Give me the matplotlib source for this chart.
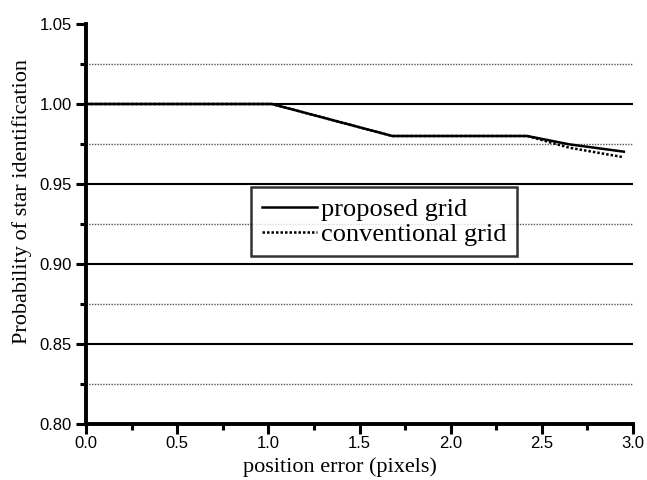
import matplotlib
matplotlib.use("Agg")
import matplotlib.pyplot as plt
from matplotlib.ticker import MultipleLocator

# values
x_proposed = [0.0, 1.02, 1.68, 2.42, 2.65, 2.95]
y_proposed = [1.0, 1.0, 0.980, 0.980, 0.9748, 0.9702]
x_conv = [0.0, 1.02, 1.68, 2.42, 2.65, 2.95]
y_conv = [1.0, 1.0, 0.980, 0.980, 0.9727, 0.9667]
series_names = ["proposed grid", "conventional grid"]
x_ticks = [0.0, 0.5, 1.0, 1.5, 2.0, 2.5, 3.0]
y_ticks = [0.80, 0.85, 0.90, 0.95, 1.00, 1.05]

fig = plt.figure(figsize=(6.47, 4.8), dpi=100)
ax = fig.add_axes([86 / 647, 1 - 424 / 480, 547 / 647, 400 / 480])

ax.set_xlim(0, 3.0)
ax.set_ylim(0.80, 1.05)
ax.set_xticks(x_ticks)
ax.set_yticks(y_ticks)
ax.set_xticklabels([f"{v:.1f}" for v in x_ticks])
ax.set_yticklabels([f"{v:.2f}" for v in y_ticks])
ax.xaxis.set_minor_locator(MultipleLocator(0.25))
ax.yaxis.set_minor_locator(MultipleLocator(0.025))

# horizontal grid: solid on majors, dotted on minors
ax.grid(False)
for v in y_ticks[1:-1]:
    ax.axhline(v, color="black", lw=1.5, zorder=1)
for i in range(10):
    v = 0.825 + 0.05 * i
    if v < 1.05:
        ax.axhline(v, color="#555555", lw=1.0, ls=(0, (1, 1)), zorder=1)

ax.plot(x_proposed, y_proposed, color="black", lw=1.8, label=series_names[0], zorder=3)
ax.plot(x_conv, y_conv, color="black", lw=1.8, ls=(0, (1, 0.8)), label=series_names[1], zorder=2)

for side in ["top", "right"]:
    ax.spines[side].set_visible(False)
for side in ["left", "bottom"]:
    ax.spines[side].set_linewidth(2.8)

ax.tick_params(which="major", direction="out", length=7, width=2.2, labelsize=12)
ax.tick_params(which="minor", direction="out", length=4, width=2.2)
ax.tick_params(axis="x", which="major", pad=2)
ax.tick_params(axis="y", which="major", pad=3.4)
for lab in ax.get_xticklabels() + ax.get_yticklabels():
    lab.set_fontfamily("Liberation Sans")

ax.set_xlabel("position error (pixels)", fontsize=16, family="Liberation Serif")
ax.xaxis.set_label_coords(0.465, -0.083)
ax.set_ylabel("Probability of star identification", fontsize=16, family="Liberation Serif")
ax.yaxis.set_label_coords(-0.098, 0.555)

leg = ax.legend(loc="upper left", bbox_to_anchor=((251 - 86) / 547, (424 - 187) / 400),
                prop={"family": "Liberation Serif", "size": 19}, frameon=True,
                fancybox=False, handlelength=2.1, handletextpad=0.15,
                borderpad=0.4, labelspacing=0.05, borderaxespad=0)
leg.get_frame().set_edgecolor("black")
leg.get_frame().set_linewidth(1.8)

fig.savefig("out.png", dpi=100)
